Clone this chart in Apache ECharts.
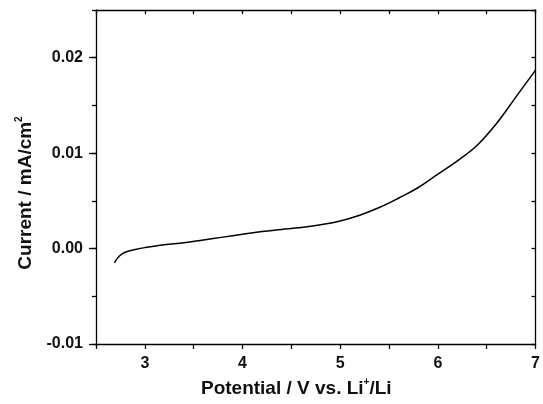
<!DOCTYPE html>
<html>
<head>
<meta charset="utf-8">
<script src="https://cdn.jsdelivr.net/npm/echarts@6/dist/echarts.min.js"></script>
<style>html,body{margin:0;padding:0;background:#fff;}#c{width:543px;height:404px;}</style>
</head>
<body>
<div id="c"></div>
<script>
var potential = [2.69, 2.72, 2.76, 2.82, 2.9, 3.0, 3.2, 3.4, 3.6, 3.8, 4.0, 4.2, 4.4, 4.6, 4.8, 5.0, 5.2, 5.4, 5.6, 5.8, 6.0, 6.2, 6.4, 6.6, 6.8, 7.0];
var current = [-0.0015, -0.0010, -0.0006, -0.0003, -0.0001, 0.0001, 0.0004, 0.0006, 0.0009, 0.0012, 0.0015, 0.0018, 0.0020, 0.0022, 0.0025, 0.0029, 0.0035, 0.0043, 0.0053, 0.0064, 0.0078, 0.0092, 0.0108, 0.0131, 0.0159, 0.0187];
var xTicks = [3, 4, 5, 6, 7];
var yTicks = [-0.01, 0, 0.01, 0.02];

var FONT = 'Liberation Sans, Arial, sans-serif';
var data = potential.map(function (x, i) { return [x, current[i]]; });
var lineStyle = { color: '#000', width: 1.3 };
var labelStyle = { fontFamily: FONT, fontWeight: 'bold', fontSize: 16, color: '#111' };
var supStyle = { fontFamily: FONT, fontWeight: 'bold', fontSize: 10, color: '#111', verticalAlign: 'top', lineHeight: 10 };
var mainName = { fontFamily: FONT, fontWeight: 'bold', fontSize: 19, color: '#111', lineHeight: 21, verticalAlign: 'bottom' };

var chart = echarts.init(document.getElementById('c'), null, { renderer: 'canvas' });
chart.setOption({
  animation: false,
  backgroundColor: '#fff',
  grid: { left: 96, right: 5, top: 10, bottom: 60, containLabel: false },
  xAxis: [
    {
      type: 'value', position: 'bottom', min: 2.5, max: 7, interval: 0.5,
      axisLine: { show: true, lineStyle: lineStyle, onZero: false },
      axisTick: { show: true, length: 5, lineStyle: lineStyle },
      axisLabel: Object.assign({ margin: 12, customValues: xTicks, formatter: function (v) { return String(Math.round(v)); } }, labelStyle),
      splitLine: { show: false },
      name: '{t|Potential / V vs. Li}{s|+}{t|/Li}', nameLocation: 'middle', nameGap: 31,
      nameTextStyle: { padding: [0, 39, 0, 0], rich: { t: mainName, s: supStyle } }
    },
    {
      type: 'value', position: 'top', min: 2.5, max: 7, interval: 0.5,
      axisLine: { show: true, lineStyle: lineStyle, onZero: false },
      axisTick: { show: true, inside: true, length: 4, lineStyle: lineStyle },
      axisLabel: { show: false }, splitLine: { show: false }
    }
  ],
  yAxis: [
    {
      type: 'value', position: 'left', min: -0.01, max: 0.025, interval: 0.005,
      axisLine: { show: true, lineStyle: lineStyle, onZero: false },
      axisTick: { show: true, length: 4, lineStyle: lineStyle },
      axisLabel: Object.assign({ margin: 13, customValues: yTicks, formatter: function (v) { return v.toFixed(2); } }, labelStyle),
      splitLine: { show: false },
      name: '{t|Current / mA/cm}{s|2}', nameLocation: 'middle', nameGap: 52,
      nameTextStyle: { padding: [0, 32, 0, 0], rich: { t: mainName, s: supStyle } }
    },
    {
      type: 'value', position: 'right', min: -0.01, max: 0.025, interval: 0.005,
      axisLine: { show: true, lineStyle: lineStyle, onZero: false },
      axisTick: { show: true, inside: true, length: 4, lineStyle: lineStyle },
      axisLabel: { show: false }, splitLine: { show: false }
    },
    {
      type: 'value', position: 'left', min: -0.01, max: 0.025, interval: 0.005,
      axisLine: { show: false },
      axisTick: { show: true, length: 7, customValues: yTicks, lineStyle: lineStyle },
      axisLabel: { show: false }, splitLine: { show: false }
    }
  ],
  series: [{
    type: 'line', xAxisIndex: 0, yAxisIndex: 0, data: data,
    smooth: 0.4, showSymbol: false, symbol: 'none',
    lineStyle: { color: '#000', width: 1.5 }
  }]
});
</script>
</body>
</html>
